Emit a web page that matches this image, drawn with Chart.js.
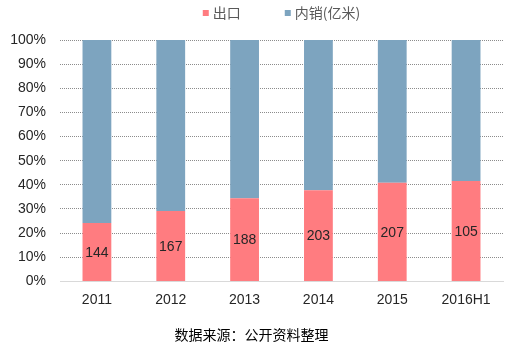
<!DOCTYPE html>
<html><head><meta charset="utf-8">
<script src="https://cdn.jsdelivr.net/npm/chart.js@4/dist/chart.umd.min.js"></script>
<style>html,body{margin:0;padding:0;background:#fff}#w{width:507px;height:352px}</style>
</head><body><div id="w"><canvas id="c"></canvas></div>
<script>
const categories = ["2011","2012","2013","2014","2015","2016H1"];
const exportShare = [24.2, 29.2, 34.4, 37.8, 40.9, 41.6];
const domesticShare = [75.8, 70.8, 65.6, 62.2, 59.1, 58.4];
const exportLabels = ["144","167","188","203","207","105"];
const seriesNames = ["出口","内销(亿米)"];
const sourceText = "数据来源：公开资料整理";

const labelPlugin = {
  id: 'barLabels',
  afterDatasetsDraw(chart) {
    const ctx = chart.ctx;
    const meta = chart.getDatasetMeta(0);
    ctx.save();
    ctx.font = '14px "Liberation Sans", Arial, sans-serif';
    ctx.fillStyle = '#262626';
    ctx.textAlign = 'center';
    ctx.textBaseline = 'middle';
    meta.data.forEach((bar, i) => {
      const y = (bar.y + bar.base) / 2;
      ctx.fillText(exportLabels[i], bar.x, y + 1);
    });
    ctx.restore();
  }
};

const legendPlugin = {
  id: 'topLegend',
  afterDraw(chart) {
    const ctx = chart.ctx;
    const ca = chart.chartArea;
    ctx.save();
    ctx.font = '14px "Noto Sans CJK SC", sans-serif';
    ctx.textBaseline = 'middle';
    const box = 6, gapText = 4, gapItem = 44;
    const items = chart.data.datasets.map(d => ({text: d.label, color: d.backgroundColor, w: ctx.measureText(d.label).width}));
    let total = items.reduce((s, it) => s + box + gapText + it.w, 0) + gapItem * (items.length - 1);
    let x = (ca.left + ca.right) / 2 - total / 2;
    const y = 13;
    items.forEach(it => {
      ctx.fillStyle = it.color;
      ctx.fillRect(x, y - 3, box, box);
      x += box + gapText;
      ctx.fillStyle = '#595959';
      ctx.textAlign = 'left';
      ctx.fillText(it.text, x, y);
      x += it.w + gapItem;
    });
    ctx.restore();
  }
};

new Chart(document.getElementById('c'), {
  type: 'bar',
  data: {
    labels: categories,
    datasets: [
      {label: seriesNames[0], data: exportShare, backgroundColor: '#FF7C80', barPercentage: 0.39, categoryPercentage: 1},
      {label: seriesNames[1], data: domesticShare, backgroundColor: '#7DA4BF', barPercentage: 0.39, categoryPercentage: 1}
    ]
  },
  options: {
    responsive: true, maintainAspectRatio: false, animation: false,
    layout: {padding: {left: 0, right: 4, top: 40, bottom: 9}},
    plugins: {
      legend: {display: false},
      title: {display: true, position: 'bottom', text: sourceText, color: '#000',
        font: {size: 14, weight: 'normal', family: '"Noto Sans CJK SC", sans-serif'},
        padding: {top: 8, bottom: 0}},
      tooltip: {enabled: false}
    },
    scales: {
      x: {
        stacked: true,
        grid: {display: false, drawTicks: false},
        border: {display: true, color: '#d9d9d9', width: 1},
        ticks: {color: '#262626', padding: 10, font: {size: 14, family: '"Liberation Sans", Arial, sans-serif'}}
      },
      y: {
        stacked: true, min: 0, max: 100,
        afterFit(s) { s.width = 60; },
        grid: {color: '#8c8c8c', drawTicks: false, lineWidth: 1},
        border: {display: false, dash: [1, 1]},
        ticks: {stepSize: 10, color: '#262626', padding: 14,
          font: {size: 14, family: '"Liberation Sans", Arial, sans-serif'},
          callback: v => v + '%'}
      }
    }
  },
  plugins: [labelPlugin, legendPlugin]
});
</script></body></html>
